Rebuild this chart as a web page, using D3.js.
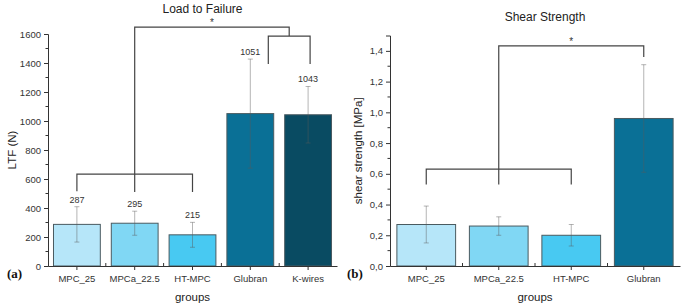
<!DOCTYPE html>
<html>
<head>
<meta charset="utf-8">
<script src="https://cdn.jsdelivr.net/npm/d3@7"></script>
<style>
  body { margin: 0; background: #fff; }
  svg { display: block; font-family: "Liberation Sans", Arial, sans-serif; }
  .tick text { fill: #333; }
</style>
</head>
<body>
<svg id="chart" width="685" height="305"></svg>
<script>
// Load to failure (N)
const ltfGroups = ["MPC_25", "MPCa_22.5", "HT-MPC", "Glubran", "K-wires"];
const ltfMeans = [287, 295, 215, 1051, 1043];
const ltfSd = [122, 83, 86, 376, 195];
const ltfTicks = [0, 200, 400, 600, 800, 1000, 1200, 1400, 1600];

// Shear strength (MPa)
const shearGroups = ["MPC_25", "MPCa_22.5", "HT-MPC", "Glubran"];
const shearMeans = [0.27, 0.26, 0.20, 0.96];
const shearSd = [0.12, 0.06, 0.07, 0.35];
const shearTicks = [0, 0.2, 0.4, 0.6, 0.8, 1.0, 1.2, 1.4];

const barColors = {
  "MPC_25": "#b6e6f9",
  "MPCa_22.5": "#80d7f4",
  "HT-MPC": "#48c9f2",
  "Glubran": "#0a7096",
  "K-wires": "#094b62"
};

const svg = d3.select("#chart");

// draws one bar panel, returns scales so brackets can be placed on it
function panel({ groups, means, sds, ticks, domainMax, minorStep, xRange, yRange,
                 title, titleY, yLabel, yLabelX, letter, letterX, fmt, showValues }) {
  const g = svg.append("g");
  const x = d3.scaleBand().domain(groups).range(xRange).paddingInner(0.19).paddingOuter(0.095);
  const y = d3.scaleLinear().domain([0, domainMax]).range(yRange);

  const data = groups.map((d, i) => ({ group: d, mean: means[i], sd: sds[i] }));

  g.selectAll("rect.bar")
    .data(data)
    .join("rect")
    .attr("class", "bar")
    .attr("x", d => x(d.group))
    .attr("width", x.bandwidth())
    .attr("y", d => y(d.mean))
    .attr("height", d => y(0) - y(d.mean))
    .attr("fill", d => barColors[d.group])
    .attr("stroke", "#4a5a60")
    .attr("stroke-width", 1);

  // error bars
  const err = g.selectAll("g.err").data(data).join("g").attr("class", "err")
    .attr("stroke", "rgba(90,90,90,0.45)").attr("stroke-width", 1);
  err.append("line")
    .attr("x1", d => x(d.group) + x.bandwidth() / 2)
    .attr("x2", d => x(d.group) + x.bandwidth() / 2)
    .attr("y1", d => y(d.mean + d.sd))
    .attr("y2", d => y(d.mean - d.sd));
  [1, -1].forEach(s => {
    err.append("line")
      .attr("x1", d => x(d.group) + x.bandwidth() / 2 - 2.5)
      .attr("x2", d => x(d.group) + x.bandwidth() / 2 + 2.5)
      .attr("y1", d => y(d.mean + s * d.sd))
      .attr("y2", d => y(d.mean + s * d.sd));
  });

  if (showValues) {
    g.selectAll("text.val")
      .data(data)
      .join("text")
      .attr("class", "val")
      .attr("x", d => x(d.group) + x.bandwidth() / 2)
      .attr("y", d => y(d.mean + d.sd) - 4)
      .attr("text-anchor", "middle")
      .attr("font-size", 9)
      .attr("fill", "#333")
      .text(d => d.mean);
  }

  // y axis
  const yAxis = g.append("g")
    .attr("transform", `translate(${xRange[0]},0)`)
    .call(d3.axisLeft(y).tickValues(ticks).tickFormat(fmt).tickSize(4).tickPadding(3));
  yAxis.select(".domain").attr("stroke", "#333");
  yAxis.selectAll(".tick line").attr("stroke", "#333");
  yAxis.selectAll(".tick text").attr("font-size", 9.5);
  const minor = d3.range(minorStep, domainMax, minorStep * 2);
  yAxis.selectAll("line.minor").data(minor).join("line")
    .attr("class", "minor")
    .attr("x1", -2.5).attr("x2", 0)
    .attr("y1", d => y(d)).attr("y2", d => y(d))
    .attr("stroke", "#333");

  // x axis
  const xAxis = g.append("g")
    .attr("transform", `translate(0,${yRange[0]})`)
    .call(d3.axisBottom(x).tickSize(4).tickPadding(5).tickSizeOuter(0));
  xAxis.select(".domain").attr("stroke", "#333");
  xAxis.selectAll(".tick line").attr("stroke", "#333");
  xAxis.selectAll(".tick text").attr("font-size", 9.5);
  const bounds = groups.slice(1).map(d => x(d) - x.step() * x.paddingInner() / 2);
  xAxis.selectAll("line.minor").data(bounds).join("line")
    .attr("class", "minor")
    .attr("x1", d => d).attr("x2", d => d)
    .attr("y1", 0).attr("y2", -3)
    .attr("stroke", "#333");

  // titles
  g.append("text")
    .attr("x", (xRange[0] + xRange[1]) / 2 + 10)
    .attr("y", titleY)
    .attr("text-anchor", "middle")
    .attr("font-size", 12)
    .attr("fill", "#222")
    .text(title);
  g.append("text")
    .attr("x", (xRange[0] + xRange[1]) / 2)
    .attr("y", yRange[0] + 35)
    .attr("text-anchor", "middle")
    .attr("font-size", 11.5)
    .attr("fill", "#222")
    .text("groups");
  g.append("text")
    .attr("transform", `translate(${yLabelX},${(yRange[0] + yRange[1]) / 2}) rotate(-90)`)
    .attr("text-anchor", "middle")
    .attr("font-size", 11.5)
    .attr("fill", "#222")
    .text(yLabel);
  g.append("text")
    .attr("x", letterX)
    .attr("y", yRange[0] + 12)
    .attr("font-family", "'Liberation Serif', 'Times New Roman', serif")
    .attr("font-weight", "bold")
    .attr("font-size", 13)
    .attr("fill", "#111")
    .text(letter);

  return { g, x, y };
}

function bracket(g, pts) {
  g.append("path")
    .attr("d", d3.line()(pts))
    .attr("fill", "none")
    .attr("stroke", "#444")
    .attr("stroke-width", 1.2);
}

const fmtComma = d => d3.format(".1f")(d).replace(".", ",");

// (a) load to failure
const a = panel({
  groups: ltfGroups, means: ltfMeans, sds: ltfSd, ticks: ltfTicks,
  domainMax: 1600, minorStep: 100,
  xRange: [48, 337], yRange: [266, 34],
  title: "Load to Failure", titleY: 13, yLabel: "LTF (N)", yLabelX: 16,
  letter: "(a)", letterX: 7, fmt: d3.format("d"), showValues: true
});
{
  const { g, x, y } = a;
  const c = k => x(k) + x.bandwidth() / 2;
  const subL = c("Glubran") + 18, subR = c("K-wires") + 2, subMid = (subL + subR) / 2;
  bracket(g, [[c("MPC_25"), y(515)], [c("MPC_25"), y(634)], [c("HT-MPC"), y(634)], [c("HT-MPC"), y(510)]]);
  bracket(g, [[c("MPCa_22.5"), y(510)], [c("MPCa_22.5"), y(1648)], [subMid, y(1648)], [subMid, y(1586)]]);
  bracket(g, [[subL, y(1393)], [subL, y(1586)], [subR, y(1586)], [subR, y(1393)]]);
  g.append("text").attr("x", (c("MPCa_22.5") + subMid) / 2).attr("y", y(1648) - 1)
    .attr("text-anchor", "middle").attr("font-size", 10).attr("fill", "#333").text("*");
}

// (b) shear strength
const b = panel({
  groups: shearGroups, means: shearMeans, sds: shearSd, ticks: shearTicks,
  domainMax: 1.5, minorStep: 0.1,
  xRange: [390, 680], yRange: [266, 35.5],
  title: "Shear Strength", titleY: 21, yLabel: "shear strength [MPa]", yLabelX: 362,
  letter: "(b)", letterX: 347, fmt: fmtComma, showValues: false
});
{
  const { g, x, y } = b;
  const c = k => x(k) + x.bandwidth() / 2;
  bracket(g, [[c("MPC_25"), y(0.53)], [c("MPC_25"), y(0.63)], [c("HT-MPC"), y(0.63)], [c("HT-MPC"), y(0.53)]]);
  bracket(g, [[c("MPCa_22.5"), y(0.53)], [c("MPCa_22.5"), y(1.433)], [c("Glubran"), y(1.433)], [c("Glubran"), y(1.36)]]);
  g.append("text").attr("x", (c("MPCa_22.5") + c("Glubran")) / 2).attr("y", y(1.433) - 1)
    .attr("text-anchor", "middle").attr("font-size", 10).attr("fill", "#333").text("*");
}
</script>
</body>
</html>
